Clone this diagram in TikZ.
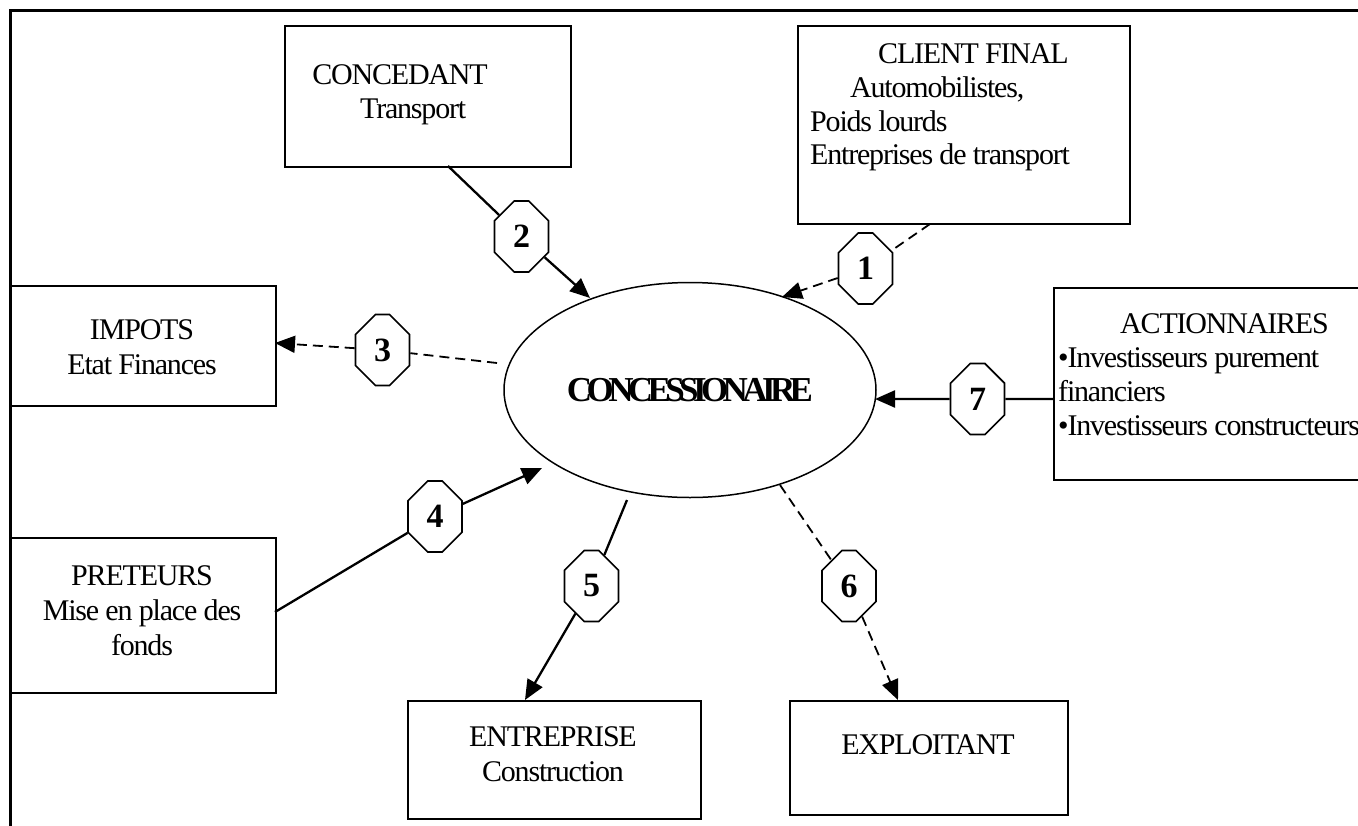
\documentclass[tikz,border=0pt]{standalone}
\usepackage{fontspec}
\setmainfont{Liberation Serif}
\usetikzlibrary{arrows.meta,shapes.misc,shapes.geometric}
\begin{document}
\begin{tikzpicture}[x=1pt,y=-1pt,
  box/.style={draw,line width=1.8pt,rectangle,inner sep=0pt,anchor=north west},
  txt/.style={inner sep=0pt,font=\fontsize{30}{32}\selectfont\addfontfeatures{LetterSpace=-4}},
  oct/.style={draw,line width=1.6pt,chamfered rectangle,
    chamfered rectangle xsep=15pt,chamfered rectangle ysep=18pt,
    minimum width=54pt,minimum height=71pt,inner sep=0pt,fill=white,
    font=\bfseries\fontsize{34}{34}\selectfont},
  tip/.style={-{Triangle[length=20pt,width=17pt]}},
  solline/.style={line width=2.3pt},
  dashline/.style={line width=1.8pt,dash pattern=on 10pt off 6pt},
]
\useasboundingbox (0,0) rectangle (1358,825);
% outer frame
\draw[line width=3pt] (1370,10) -- (10,10) -- (10,840);

% boxes
\node[box,minimum width=286pt,minimum height=141pt] (conc) at (284,25) {};
\node[box,minimum width=332pt,minimum height=198pt] (client) at (797,25) {};
\node[box,minimum width=265pt,minimum height=120pt] (impots) at (10,285) {};
\node[box,minimum width=320pt,minimum height=192pt] (act) at (1053,287) {};
\node[box,minimum width=265pt,minimum height=155pt] (pret) at (10,537) {};
\node[box,minimum width=293pt,minimum height=118pt] (entr) at (407,700) {};
\node[box,minimum width=278pt,minimum height=114pt] (expl) at (789,700) {};

% texts
\node[txt,anchor=base] (t1) at (400,84) {CONCEDANT};
\node[txt,anchor=base west] (t2) at (360,118) {Transport};
\node[txt,anchor=base west] (t3) at (878,63) {CLIENT FINAL};
\node[txt,anchor=base west] (t4) at (850,97) {Automobilistes,};
\node[txt,anchor=base west] (t5) at (810,131) {Poids lourds};
\node[txt,anchor=base west] (t6) at (810,164) {Entreprises de transport};
\node[txt,anchor=base] (t7) at (142,339) {IMPOTS};
\node[txt,anchor=base] (t8) at (142,374) {Etat Finances};
\node[txt,anchor=base west] (t9) at (1120,333) {ACTIONNAIRES};
\node[txt,anchor=base west] (t10) at (1058,367) {•Investisseurs purement};
\node[txt,anchor=base west] (t11) at (1058,401) {financiers};
\node[txt,anchor=base west] (t12) at (1058,435) {•Investisseurs constructeurs};
\node[txt,anchor=base] (t13) at (142,585) {PRETEURS};
\node[txt,anchor=base] (t14) at (142,620) {Mise en place des};
\node[txt,anchor=base] (t15) at (142,655) {fonds};
\node[txt,anchor=base] (t16) at (553,746) {ENTREPRISE};
\node[txt,anchor=base] (t17) at (553,781) {Construction};
\node[txt,anchor=base] (t18) at (928,754) {EXPLOITANT};

% central ellipse
\node[draw,ellipse,line width=1.5pt,minimum width=372pt,minimum height=215pt,inner sep=0pt,
  font=\bfseries\fontsize{35}{35}\selectfont\addfontfeatures{LetterSpace=-16}] (ell) at (690,390) {CONCESSIONAIRE};

% octagons
\node[oct] (o1) at (865.5,268.5) {1};
\node[oct] (o2) at (521.5,236.5) {2};
\node[oct] (o3) at (382.5,350) {3};
\node[oct] (o4) at (435,516.5) {4};
\node[oct] (o5) at (591.5,586) {5};
\node[oct] (o6) at (849,586) {6};
\node[oct] (o7) at (977.5,399) {7};

% connector end points
\coordinate (c1) at (930,224);
\coordinate (e1) at (782,297);
\coordinate (c2) at (448,166);
\coordinate (e2) at (590,298);
\coordinate (e3) at (497,363);
\coordinate (i3) at (275,343);
\coordinate (p4) at (275,612);
\coordinate (e4) at (542,468);
\coordinate (e5) at (627,500);
\coordinate (n5) at (525,700);
\coordinate (e6) at (780,485);
\coordinate (x6) at (898,700);
\coordinate (a7) at (1053,399);
\coordinate (e7) at (875,399);

% connectors
\draw[dashline] (c1) -- (o1);
\draw[dashline,tip] (o1) -- (e1);
\draw[solline] (c2) -- (o2);
\draw[solline,tip] (o2) -- (e2);
\draw[dashline] (e3) -- (o3);
\draw[dashline,tip] (o3) -- (i3);
\draw[solline] (p4) -- (o4);
\draw[solline,tip] (o4) -- (e4);
\draw[solline] (e5) -- (o5);
\draw[solline,tip] (o5) -- (n5);
\draw[dashline] (e6) -- (o6);
\draw[dashline,tip] (o6) -- (x6);
\draw[solline] (a7) -- (o7);
\draw[solline,tip] (o7) -- (e7);
\end{tikzpicture}
\end{document}
